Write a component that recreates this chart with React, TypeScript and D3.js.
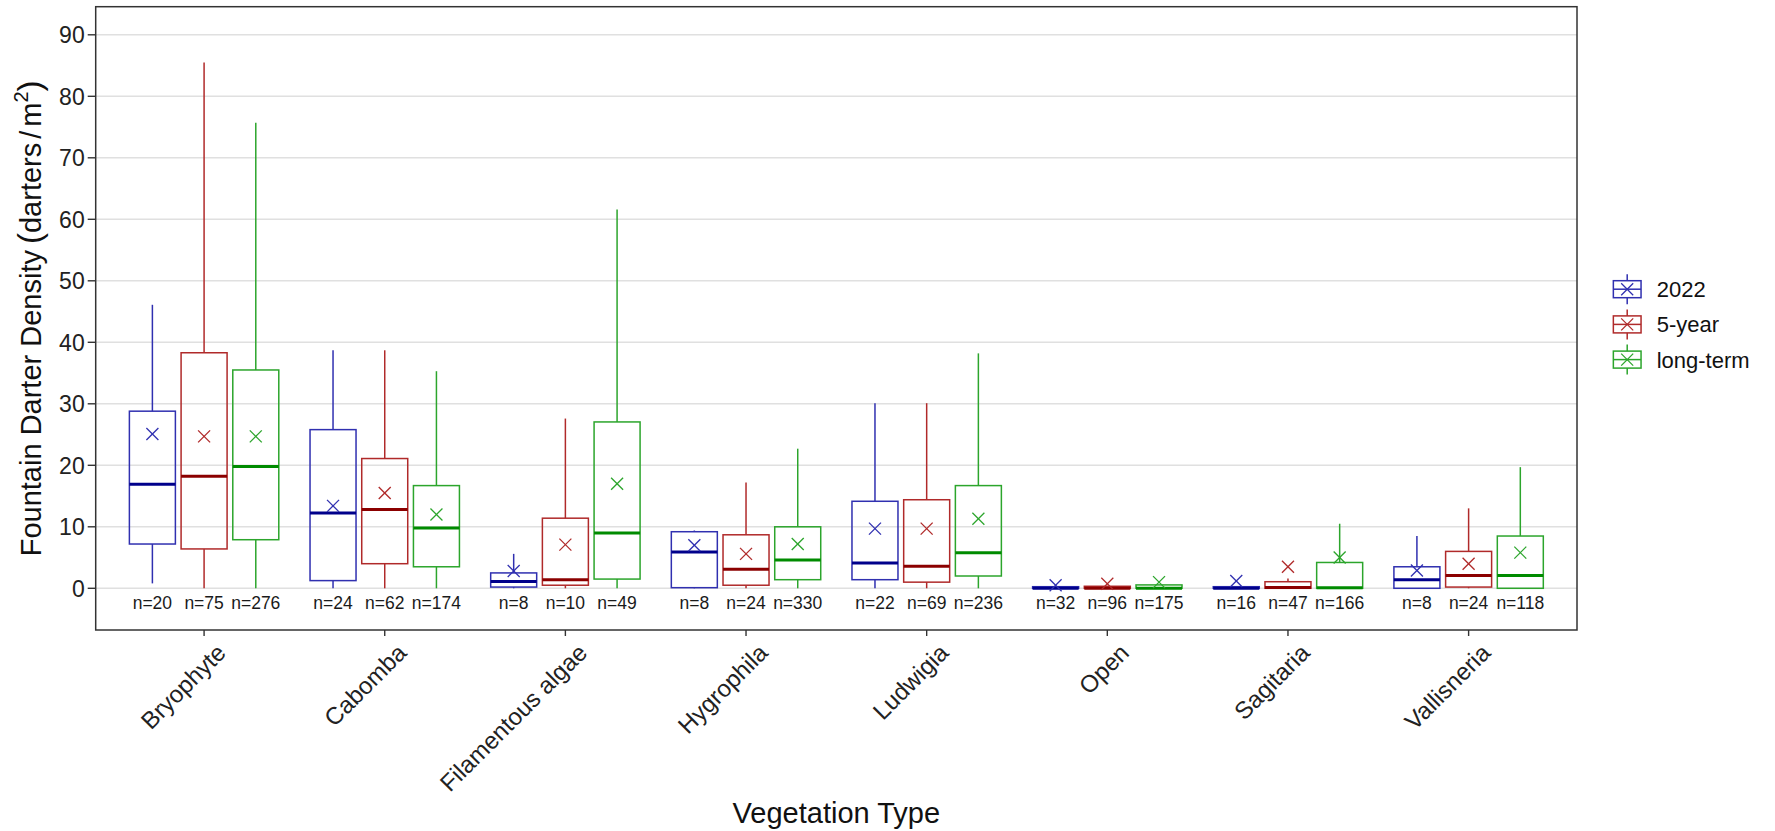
import React from "react";
import * as d3 from "d3";

const categories = ["Bryophyte", "Cabomba", "Filamentous algae", "Hygrophila", "Ludwigia", "Open", "Sagitaria", "Vallisneria"];
const seriesNames = ["2022", "5-year", "long-term"];
const yTicks = [0, 10, 20, 30, 40, 50, 60, 70, 80, 90];

// 2022
const s2022Low = [0.8, 0, 0, 0, 0, 0, 0, 0];
const s2022Q1 = [7.2, 1.25, 0.2, 0.1, 1.4, 0, 0, 0];
const s2022Med = [16.9, 12.25, 1.1, 5.9, 4.1, 0, 0, 1.4];
const s2022Q3 = [28.8, 25.8, 2.5, 9.2, 14.15, 0.26, 0.26, 3.5];
const s2022High = [46.1, 38.7, 5.6, 9.4, 30.1, 0.26, 0.26, 8.5];
const s2022Mean = [25.1, 13.4, 2.8, 7.0, 9.7, 0.5, 1.2, 2.9];
const s2022N = [20, 24, 8, 8, 22, 32, 16, 8];

// 5-year
const s5Low = [0, 0, 0, 0, 0, 0, 0, 0];
const s5Q1 = [6.4, 4.0, 0.5, 0.5, 1.0, 0, 0, 0.2];
const s5Med = [18.2, 12.8, 1.4, 3.1, 3.6, 0, 0.15, 2.1];
const s5Q3 = [38.3, 21.1, 11.4, 8.7, 14.4, 0.33, 1.07, 6.0];
const s5High = [85.5, 38.7, 27.6, 17.2, 30.1, 0.33, 1.6, 13.0];
const s5Mean = [24.7, 15.5, 7.1, 5.6, 9.7, 0.75, 3.5, 4.0];
const s5N = [75, 62, 10, 24, 69, 96, 47, 24];

// long-term
const sLtLow = [0, 0, 0, 0, 0, 0, 0, 0];
const sLtQ1 = [7.9, 3.5, 1.5, 1.4, 2.0, 0, 0, 0];
const sLtMed = [19.8, 9.8, 9.0, 4.6, 5.8, 0, 0.1, 2.1];
const sLtQ3 = [35.5, 16.7, 27.05, 10.0, 16.7, 0.55, 4.2, 8.5];
const sLtHigh = [75.7, 35.3, 61.6, 22.7, 38.2, 0.55, 10.5, 19.7];
const sLtMean = [24.7, 12.0, 17.0, 7.2, 11.3, 1.0, 5.0, 5.8];
const sLtN = [276, 174, 49, 330, 236, 175, 166, 118];

const lineColors = ["#3030b0", "#b02a2a", "#2ca52c"];
const medianColors = ["#00008b", "#8b0000", "#008b00"];

const seriesData = [
  { low: s2022Low, q1: s2022Q1, med: s2022Med, q3: s2022Q3, high: s2022High, mean: s2022Mean, n: s2022N },
  { low: s5Low, q1: s5Q1, med: s5Med, q3: s5Q3, high: s5High, mean: s5Mean, n: s5N },
  { low: sLtLow, q1: sLtQ1, med: sLtMed, q3: sLtQ3, high: sLtHigh, mean: sLtMean, n: sLtN },
];

const W = 1775;
const H = 831;
const panel = { left: 95.7, right: 1577, top: 6.7, bottom: 630 };
const FONT = "'Liberation Sans', Arial, Helvetica, sans-serif";

export default function App() {
  const y = d3.scaleLinear().domain([0, 90]).range([588.3, 34.8]);
  const x = d3.scalePoint<string>().domain(categories).range([panel.left, panel.right]).padding(0.6);
  const dodge = d3.scalePoint<string>().domain(seriesNames).range([-51.7, 51.7]);
  const boxW = 46;
  const xs = 6;

  const legendY = d3.scalePoint<string>().domain(seriesNames).range([289.2, 359.6]);

  return (
    <div style={{ position: "absolute", left: 0, top: 0 }}>
      <svg width={W} height={H} style={{ display: "block" }} fontFamily={FONT}>
        <rect x={0} y={0} width={W} height={H} fill="#fff" />
        {/* gridlines */}
        {yTicks.map((t) => (
          <line key={"g" + t} x1={panel.left} x2={panel.right} y1={y(t)} y2={y(t)} stroke="#e0e0e0" strokeWidth={1.4} />
        ))}
        {/* boxes */}
        {categories.map((c, i) =>
          seriesNames.map((s, k) => {
            const d = seriesData[k];
            const cx = (x(c) as number) + (dodge(s) as number);
            const col = lineColors[k];
            const ym = y(d.mean[i]);
            return (
              <g key={c + s}>
                {d.high[i] > d.q3[i] && (
                  <line x1={cx} x2={cx} y1={y(d.q3[i])} y2={y(d.high[i])} stroke={col} strokeWidth={1.5} />
                )}
                {d.low[i] < d.q1[i] && (
                  <line x1={cx} x2={cx} y1={y(d.q1[i])} y2={y(d.low[i])} stroke={col} strokeWidth={1.5} />
                )}
                <rect
                  x={cx - boxW / 2}
                  y={y(d.q3[i])}
                  width={boxW}
                  height={Math.max(0, y(d.q1[i]) - y(d.q3[i]))}
                  fill="none"
                  stroke={col}
                  strokeWidth={1.5}
                />
                <line x1={cx - boxW / 2} x2={cx + boxW / 2} y1={y(d.med[i])} y2={y(d.med[i])} stroke={medianColors[k]} strokeWidth={3} />
                <line x1={cx - xs} x2={cx + xs} y1={ym - xs} y2={ym + xs} stroke={col} strokeWidth={1.3} />
                <line x1={cx - xs} x2={cx + xs} y1={ym + xs} y2={ym - xs} stroke={col} strokeWidth={1.3} />
                <text x={cx} y={609} textAnchor="middle" fontSize={17.5} fill="#1a1a1a">
                  {"n=" + d.n[i]}
                </text>
              </g>
            );
          })
        )}
        {/* panel border */}
        <rect
          x={panel.left}
          y={panel.top}
          width={panel.right - panel.left}
          height={panel.bottom - panel.top}
          fill="none"
          stroke="#333"
          strokeWidth={1.5}
        />
        {/* y axis */}
        {yTicks.map((t) => (
          <g key={"yt" + t}>
            <line x1={panel.left - 8} x2={panel.left} y1={y(t)} y2={y(t)} stroke="#333" strokeWidth={1.4} />
            <text x={panel.left - 11} y={y(t)} dy="0.36em" textAnchor="end" fontSize={23} fill="#222">
              {t}
            </text>
          </g>
        ))}
        {/* x axis */}
        {categories.map((c) => {
          const cx = x(c) as number;
          return (
            <g key={"xt" + c}>
              <line x1={cx} x2={cx} y1={panel.bottom} y2={panel.bottom + 6} stroke="#333" strokeWidth={1.4} />
              <text
                transform={`translate(${cx + 11},${panel.bottom + 12}) rotate(-45)`}
                textAnchor="end"
                dy="0.72em"
                fontSize={24}
                fill="#222"
              >
                {c}
              </text>
            </g>
          );
        })}
        {/* axis titles */}
        <text x={(panel.left + panel.right) / 2} y={823} textAnchor="middle" fontSize={29} fill="#111">
          Vegetation Type
        </text>
        <text transform={`translate(40.5,${(panel.top + panel.bottom) / 2}) rotate(-90)`} textAnchor="middle" fontSize={29} fill="#111">
          Fountain Darter Density
          <tspan dx={6} fontSize={33}>(</tspan>
          <tspan>darters</tspan>
          <tspan dx={4}>/</tspan>
          <tspan dx={4}>m</tspan>
          <tspan fontSize={20} dy={-13}>2</tspan>
          <tspan fontSize={33} dy={13}>)</tspan>
        </text>
        {/* legend */}
        {seriesNames.map((s, k) => {
          const cy = legendY(s) as number;
          const kx = 1627.2;
          const col = lineColors[k];
          return (
            <g key={"lg" + s}>
              <line x1={kx} x2={kx} y1={cy - 15} y2={cy + 15} stroke={col} strokeWidth={1.5} />
              <rect x={kx - 13.85} y={cy - 8.5} width={27.7} height={17} fill="#fff" stroke={col} strokeWidth={1.5} />
              <line x1={kx - 13.85} x2={kx + 13.85} y1={cy} y2={cy} stroke={col} strokeWidth={1.5} />
              <line x1={kx - 6} x2={kx + 6} y1={cy - 6} y2={cy + 6} stroke={col} strokeWidth={1.3} />
              <line x1={kx - 6} x2={kx + 6} y1={cy + 6} y2={cy - 6} stroke={col} strokeWidth={1.3} />
              <text x={1656.7} y={cy} dy="0.36em" fontSize={22} fill="#111">
                {s}
              </text>
            </g>
          );
        })}
      </svg>
    </div>
  );
}
